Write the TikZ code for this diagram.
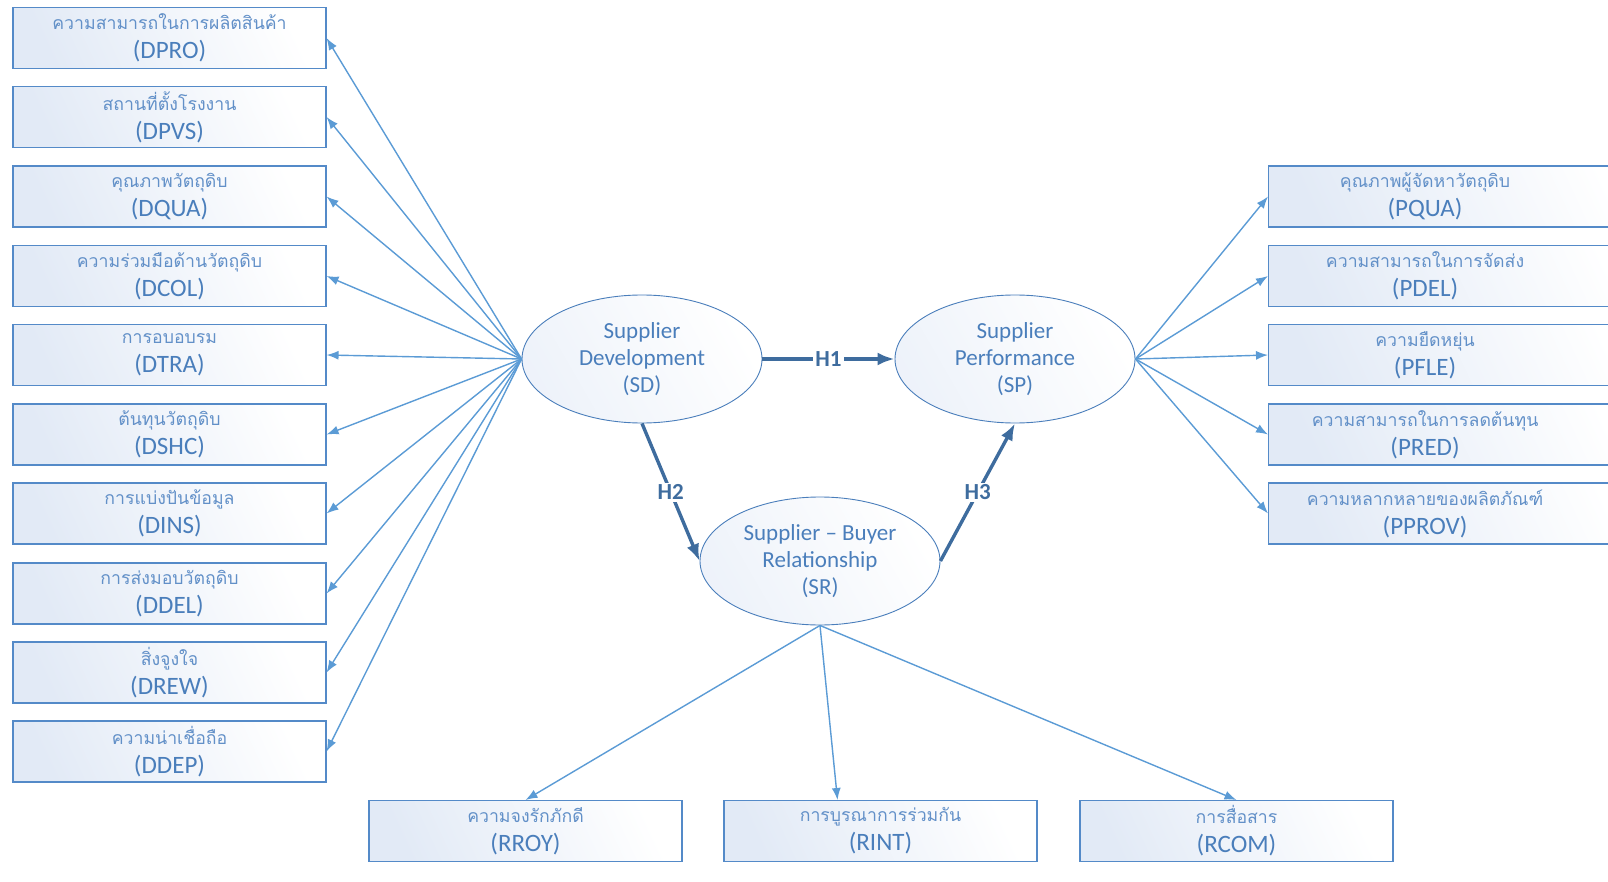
\documentclass[tikz,border=0pt]{standalone}
\usepackage{fontspec}
\setmainfont{Carlito}
\newfontfamily\thaifont[Script=Thai]{Loma}
\usepackage{xcolor}
\usetikzlibrary{shapes.geometric,arrows.meta}

\definecolor{txtblue}{RGB}{74,126,187}
\definecolor{edgeblue}{RGB}{84,138,200}
\definecolor{thaiblue}{RGB}{98,144,200}
\definecolor{lineblue}{RGB}{91,155,213}
\definecolor{hblue}{RGB}{62,108,158}
\definecolor{fillblue}{RGB}{226,234,246}

\newcommand{\twoline}[2]{{\thaifont\color{thaiblue}\fontsize{17.7}{29}\selectfont #1}\\#2}
\newcommand{\rtwoline}[2]{\makebox[313pt]{\thaifont\color{thaiblue}\fontsize{17.7}{29}\selectfont #1}\\\makebox[313pt]{#2}}

\tikzset{
  vbox/.style={draw=edgeblue, line width=1.1pt, left color=fillblue, right color=white,
    shading angle=115, minimum width=313pt, minimum height=61pt, align=center,
    text=txtblue, inner sep=0pt, font=\fontsize{25}{29}\selectfont},
  rvbox/.style={vbox, minimum width=0pt, text width=380pt, align=left, anchor=west},
  latent/.style={ellipse, draw=txtblue, line width=0.9pt, left color=fillblue!60, right color=white,
    shading angle=120, minimum width=240pt, minimum height=128pt, inner sep=0pt,
    align=center, text=txtblue, font=\fontsize{23}{27}\selectfont},
  load/.style={draw=lineblue, line width=1.4pt, -{Latex[length=12pt,width=9pt]}},
  hyp/.style={draw=hblue, line width=3.4pt, -{Latex[length=17pt,width=13pt]}},
  hlab/.style={fill=white, inner sep=2pt, text=hblue, font=\bfseries\fontsize{23}{26}\selectfont}
}

\begin{document}
\begin{tikzpicture}[x=1pt,y=-1pt]
\useasboundingbox (0,0) rectangle (1608,882);
\clip (0,0) rectangle (1608,882);

% latent variables
\node[latent] (SD) at (642,359) {Supplier\\Development\\(SD)};
\node[latent] (SP) at (1015,359) {Supplier\\Performance\\(SP)};
\node[latent] (SR) at (820,561) {Supplier -- Buyer\\Relationship\\(SR)};

% indicators of SD
\node[vbox] (DPRO) at (169.5,38) {\twoline{ความสามารถในการผลิตสินค้า}{(DPRO)}};
\node[vbox] (DPVS) at (169.5,117) {\twoline{สถานที่ตั้งโรงงาน}{(DPVS)}};
\node[vbox] (DQUA) at (169.5,196.5) {\twoline{คุณภาพวัตถุดิบ}{(DQUA)}};
\node[vbox] (DCOL) at (169.5,276) {\twoline{ความร่วมมือด้านวัตถุดิบ}{(DCOL)}};
\node[vbox] (DTRA) at (169.5,355) {\twoline{การอบอบรม}{(DTRA)}};
\node[vbox] (DSHC) at (169.5,434.5) {\twoline{ต้นทุนวัตถุดิบ}{(DSHC)}};
\node[vbox] (DINS) at (169.5,513.5) {\twoline{การแบ่งปันข้อมูล}{(DINS)}};
\node[vbox] (DDEL) at (169.5,593.5) {\twoline{การส่งมอบวัตถุดิบ}{(DDEL)}};
\node[vbox] (DREW) at (169.5,672.5) {\twoline{สิ่งจูงใจ}{(DREW)}};
\node[vbox] (DDEP) at (169.5,751.5) {\twoline{ความน่าเชื่อถือ}{(DDEP)}};

% indicators of SP
\node[rvbox] (PQUA) at (1268,196.5) {\rtwoline{คุณภาพผู้จัดหาวัตถุดิบ}{(PQUA)}};
\node[rvbox] (PDEL) at (1268,276) {\rtwoline{ความสามารถในการจัดส่ง}{(PDEL)}};
\node[rvbox] (PFLE) at (1268,355) {\rtwoline{ความยืดหยุ่น}{(PFLE)}};
\node[rvbox] (PRED) at (1268,434.5) {\rtwoline{ความสามารถในการลดต้นทุน}{(PRED)}};
\node[rvbox] (PPROV) at (1268,513.5) {\rtwoline{ความหลากหลายของผลิตภัณฑ์}{(PPROV)}};

% indicators of SR
\node[vbox,anchor=north] (RROY) at (525.5,800) {\twoline{ความจงรักภักดี}{(RROY)}};
\node[vbox,anchor=north] (RINT) at (880.5,800) {\twoline{การบูรณาการร่วมกัน}{(RINT)}};
\node[vbox,anchor=north] (RCOM) at (1236.5,800) {\twoline{การสื่อสาร}{(RCOM)}};

% loadings
\foreach \n in {DPRO,DPVS,DQUA,DCOL,DTRA,DSHC,DINS,DDEL,DREW,DDEP}
  \draw[load] (SD.west) -- (\n.east);
\foreach \n in {PQUA,PDEL,PFLE,PRED,PPROV}
  \draw[load] (SP.east) -- (\n.west);
\draw[load] (SR.south) -- (RROY.north);
\draw[load] (SR.south) -- ([xshift=-43pt]RINT.north);
\draw[load] (SR.south) -- (RCOM.north);

% hypotheses
\draw[hyp] (SD.east) -- node[hlab] {H1} (SP.west);
\draw[hyp] (SD.south) -- node[hlab] {H2} (SR.west);
\draw[hyp] (SR.east) -- node[hlab] {H3} (SP.south);
\end{tikzpicture}
\end{document}
